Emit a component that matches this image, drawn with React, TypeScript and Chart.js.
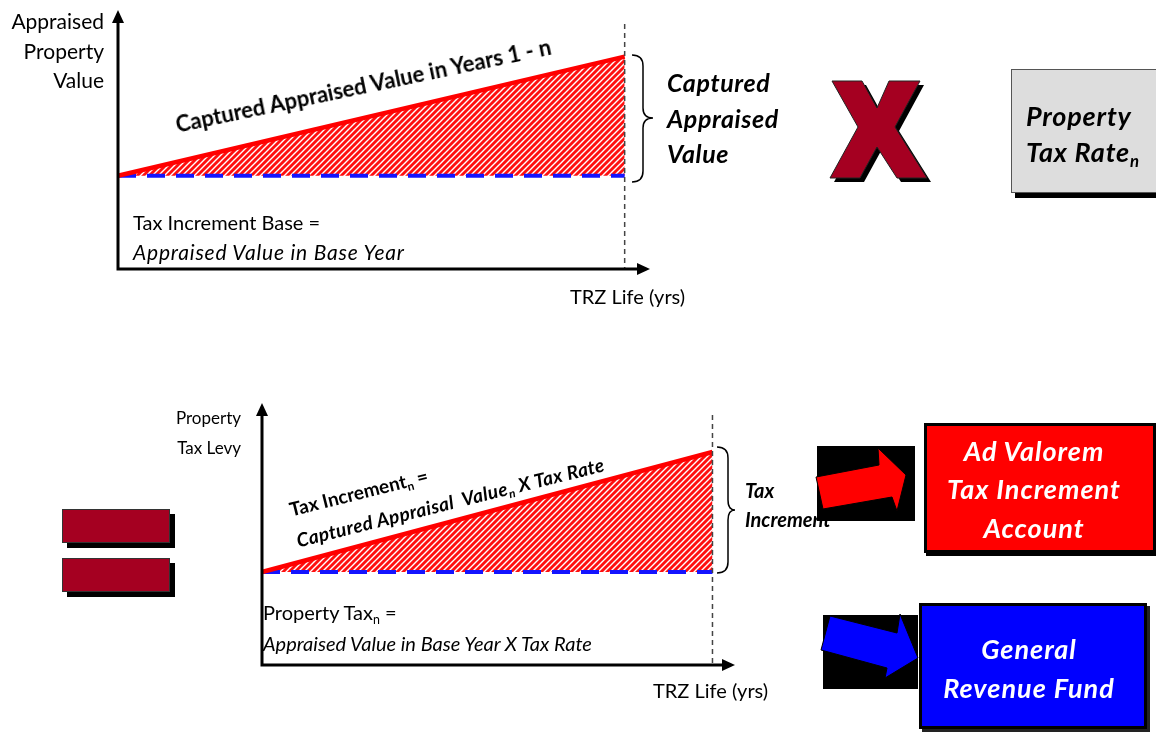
import React, { useEffect, useRef } from "react";
import { Chart, registerables } from "chart.js";

Chart.register(...registerables);

// ---------- data ----------
const topYears = [0, 20];
const topCapturedValue = [36, 82];
const topBaseValue = [36, 36];
const topXMax = 21;
const topYMax = 100;

const bottomYears = [0, 20];
const bottomTaxIncrement = [35.5, 81.3];
const bottomBaseTax = [35.5, 35.5];
const bottomXMax = 21;
const bottomYMax = 100;

const W = 1156;
const H = 734;
const FONT = 'Lato, "Open Sans", "DejaVu Sans", sans-serif';

function makeHatch(): CanvasPattern | string {
  const c = document.createElement("canvas");
  const s = 6;
  c.width = s;
  c.height = s;
  const g = c.getContext("2d");
  if (!g) return "rgba(255,0,0,0.7)";
  g.fillStyle = "#FF0F0F";
  g.fillRect(0, 0, s, s);
  g.strokeStyle = "#FFFFFF";
  g.lineWidth = 1.4;
  g.beginPath();
  g.moveTo(-1, s + 1);
  g.lineTo(s + 1, -1);
  g.moveTo(-1, 1);
  g.lineTo(1, -1);
  g.moveTo(s - 1, s + 1);
  g.lineTo(s + 1, s - 1);
  g.stroke();
  const p = g.createPattern(c, "repeat");
  return p || "rgba(255,0,0,0.7)";
}

const diagramAxes = {
  id: "diagramAxes",
  afterDraw(chart: any, _args: any, opts: any) {
    const { ctx, chartArea } = chart;
    const { left, right, top, bottom } = chartArea;
    const xs = chart.scales.x;
    ctx.save();
    const ex = xs.getPixelForValue(opts.endYear);
    ctx.strokeStyle = "#444";
    ctx.lineWidth = 1.5;
    ctx.setLineDash([5, 4]);
    ctx.beginPath();
    ctx.moveTo(ex, top + opts.dashTop);
    ctx.lineTo(ex, bottom);
    ctx.stroke();
    ctx.setLineDash([]);
    ctx.strokeStyle = "#000";
    ctx.fillStyle = "#000";
    ctx.lineWidth = 3;
    ctx.beginPath();
    ctx.moveTo(left, bottom + 1.5);
    ctx.lineTo(left, top + 8);
    ctx.moveTo(left - 1.5, bottom);
    ctx.lineTo(right - 8, bottom);
    ctx.stroke();
    ctx.beginPath();
    ctx.moveTo(left, top);
    ctx.lineTo(left - 6, top + 13);
    ctx.lineTo(left + 6, top + 13);
    ctx.closePath();
    ctx.fill();
    ctx.beginPath();
    ctx.moveTo(right, bottom);
    ctx.lineTo(right - 13, bottom - 6);
    ctx.lineTo(right - 13, bottom + 6);
    ctx.closePath();
    ctx.fill();
    ctx.restore();
  },
};

type ChartSpec = {
  years: number[];
  upper: number[];
  base: number[];
  xMax: number;
  yMax: number;
  endYear: number;
  dashTop: number;
  padding: { left: number; right: number; top: number; bottom: number };
};

function DiagramChart(props: ChartSpec & { left: number; top: number; width: number; height: number }) {
  const ref = useRef<HTMLCanvasElement | null>(null);
  useEffect(() => {
    if (!ref.current) return;
    const hatch = makeHatch();
    const chart = new Chart(ref.current, {
      type: "line",
      data: {
        datasets: [
          {
            data: props.years.map((x, i) => ({ x, y: props.upper[i] })),
            borderColor: "#FF0000",
            borderWidth: 4.5,
            pointRadius: 0,
            fill: "+1",
            backgroundColor: hatch as any,
            tension: 0,
            clip: false as any,
            order: 0,
          },
          {
            data: props.years.map((x, i) => ({ x, y: props.base[i] })),
            borderColor: "#1414FF",
            borderWidth: 4,
            borderDash: [18, 11],
            pointRadius: 0,
            fill: false,
            tension: 0,
            clip: false as any,
            order: 1,
          },
        ],
      },
      options: {
        animation: false,
        responsive: false,
        maintainAspectRatio: false,
        events: [],
        layout: { padding: props.padding },
        scales: {
          x: { type: "linear", min: 0, max: props.xMax, display: false },
          y: { type: "linear", min: 0, max: props.yMax, display: false },
        },
        plugins: {
          legend: { display: false },
          tooltip: { enabled: false },
          filler: { drawTime: "beforeDatasetsDraw" },
          diagramAxes: { endYear: props.endYear, dashTop: props.dashTop },
        } as any,
      },
      plugins: [diagramAxes],
    });
    return () => chart.destroy();
  }, []);
  return (
    <canvas
      ref={ref}
      width={props.width}
      height={props.height}
      style={{ position: "absolute", left: props.left, top: props.top, width: props.width, height: props.height }}
    />
  );
}

type TP = {
  x: number;
  y: number;
  size: number;
  bold?: boolean;
  italic?: boolean;
  color?: string;
  align?: "left" | "right" | "center";
  ls?: number;
  children: React.ReactNode;
};

function Txt({ x, y, size, bold, italic, color = "#000", align = "left", ls = 0, children }: TP) {
  const style: any = {
    position: "absolute",
    top: y,
    fontSize: size,
    fontWeight: bold ? 700 : 400,
    fontStyle: italic ? "italic" : "normal",
    color,
    lineHeight: 1,
    whiteSpace: "nowrap",
    fontFamily: FONT,
    letterSpacing: ls,
  };
  if (align === "left") {
    style.left = x;
    style.transform = "translateY(-50%)";
  } else if (align === "right") {
    style.right = W - x;
    style.transform = "translateY(-50%)";
  } else {
    style.left = x;
    style.transform = "translate(-50%,-50%)";
  }
  return <div style={style}>{children}</div>;
}

function RotTxt({ x, y, size, angle, bold, italic, ls = 0, children }: { x: number; y: number; size: number; angle: number; bold?: boolean; italic?: boolean; ls?: number; children: React.ReactNode }) {
  return (
    <div
      style={{
        position: "absolute",
        left: x,
        top: y,
        fontSize: size,
        fontWeight: bold ? 700 : 400,
        fontStyle: italic ? "italic" : "normal",
        lineHeight: 1.2,
        whiteSpace: "nowrap",
        fontFamily: FONT,
        letterSpacing: ls,
        transformOrigin: "0 50%",
        transform: `translateY(-50%) rotate(${-angle}deg)`,
      }}
    >
      {children}
    </div>
  );
}

const Sub = ({ children }: { children: React.ReactNode }) => (
  <span style={{ fontSize: "0.62em", verticalAlign: "-0.3em", lineHeight: 0 }}>{children}</span>
);

export default function App() {
  return (
    <div style={{ position: "absolute", left: 0, top: 0, width: W, height: H, background: "#fff", overflow: "hidden", fontFamily: FONT }}>
      {/* ---------- top chart ---------- */}
      <DiagramChart
        left={100}
        top={0}
        width={570}
        height={290}
        years={topYears}
        upper={topCapturedValue}
        base={topBaseValue}
        xMax={topXMax}
        yMax={topYMax}
        endYear={20}
        dashTop={14}
        padding={{ left: 18, right: 20, top: 10, bottom: 21 }}
      />
      <Txt x={104} y={20} size={21} align="right">Appraised</Txt>
      <Txt x={104} y={50} size={21} align="right">Property</Txt>
      <Txt x={104} y={79} size={21} align="right">Value</Txt>
      <RotTxt x={176} y={125} size={22} angle={11.8} bold>
        Captured Appraised Value in Years 1 - n
      </RotTxt>
      <Txt x={133} y={222} size={20}>Tax Increment Base =</Txt>
      <Txt x={133} y={251} size={21} italic ls={0.8}>Appraised Value in Base Year</Txt>
      <Txt x={570} y={296} size={20}>TRZ Life (yrs)</Txt>

      <svg width={W} height={H} style={{ position: "absolute", left: 0, top: 0, pointerEvents: "none" }}>
        <path d="M632,55 Q643,55 643,66 L643,108 Q643,118 653,118 Q643,118 643,128 L643,171 Q643,182 632,182" fill="none" stroke="#000" strokeWidth={1.5} />
        <path d="M717,447 Q728,447 728,458 L728,500 Q728,510 735,510 Q728,510 728,520 L728,562 Q728,573 717,573" fill="none" stroke="#000" strokeWidth={1.5} />
        <g transform="translate(4,4)">
          <polygon points="832,81 862,81 877,108 889,81 920,81 895,127 927,178 897,178 877,147 860,178 830,178 858,127" fill="#000" />
        </g>
        <polygon points="832,81 862,81 877,108 889,81 920,81 895,127 927,178 897,178 877,147 860,178 830,178 858,127" fill="#A50021" stroke="#222" strokeWidth={1} />
        <rect x={817} y={446} width={98} height={75} fill="#000" />
        <polygon points="816,477 879,465 878,448 906,475 897,511 892,497 823,509" fill="#FF0000" stroke="#000" strokeWidth={1} />
        <rect x={823} y={615} width={95} height={74} fill="#000" />
        <polygon points="830,616 897,633 900,614 918,658 885,678 887,668 821,650" fill="#0000FF" stroke="#000" strokeWidth={1} />
      </svg>

      <Txt x={667} y={82} size={25} bold italic ls={0.6}>Captured</Txt>
      <Txt x={667} y={118} size={25} bold italic ls={0.6}>Appraised</Txt>
      <Txt x={667} y={153} size={25} bold italic ls={0.6}>Value</Txt>

      <div style={{ position: "absolute", left: 1011, top: 69, width: 160, height: 122, background: "#DDDDDD", border: "1px solid #555", boxShadow: "4px 5px 0 #000" }} />
      <Txt x={1026} y={115} size={27} bold italic ls={0.8}>Property</Txt>
      <Txt x={1026} y={151} size={27} bold italic ls={0.8}>Tax Rate<Sub>n</Sub></Txt>

      <div style={{ position: "absolute", left: 62, top: 509, width: 106, height: 32, background: "#A50021", border: "1px solid #333", boxShadow: "5px 5px 0 #000" }} />
      <div style={{ position: "absolute", left: 62, top: 558, width: 106, height: 32, background: "#A50021", border: "1px solid #333", boxShadow: "5px 5px 0 #000" }} />

      {/* ---------- bottom chart ---------- */}
      <DiagramChart
        left={240}
        top={390}
        width={520}
        height={295}
        years={bottomYears}
        upper={bottomTaxIncrement}
        base={bottomBaseTax}
        xMax={bottomXMax}
        yMax={bottomYMax}
        endYear={20}
        dashTop={12}
        padding={{ left: 22, right: 25, top: 13, bottom: 20 }}
      />
      <Txt x={241} y={417} size={17} align="right">Property</Txt>
      <Txt x={241} y={447} size={17} align="right">Tax Levy</Txt>
      <RotTxt x={290} y={510} size={19} angle={14} bold>
        Tax Increment<Sub>n</Sub> =
      </RotTxt>
      <RotTxt x={297} y={541} size={19} angle={14} bold italic ls={0.4}>
        Captured Appraisal&nbsp; Value<Sub>n</Sub> X Tax Rate
      </RotTxt>
      <Txt x={263} y={612} size={20}>Property Tax<Sub>n</Sub> =</Txt>
      <Txt x={263} y={643} size={20} italic>Appraised Value in Base Year X Tax Rate</Txt>
      <Txt x={653} y={690} size={20}>TRZ Life (yrs)</Txt>
      <Txt x={745} y={490} size={20} bold italic>Tax</Txt>
      <Txt x={745} y={519} size={20} bold italic>Increment</Txt>

      <div style={{ position: "absolute", left: 924, top: 423, width: 226, height: 124, background: "#FF0000", border: "3px solid #000", boxShadow: "2px 3px 0 #000" }} />
      <Txt x={1034} y={450} size={27} bold italic ls={1} color="#fff" align="center">Ad Valorem</Txt>
      <Txt x={1034} y={488} size={27} bold italic ls={1} color="#fff" align="center">Tax Increment</Txt>
      <Txt x={1034} y={527} size={27} bold italic ls={1} color="#fff" align="center">Account</Txt>

      <div style={{ position: "absolute", left: 919, top: 603, width: 222, height: 120, background: "#0000FF", border: "3px solid #000", boxShadow: "3px 3px 0 #222" }} />
      <Txt x={1029} y={648} size={27} bold italic ls={1} color="#fff" align="center">General</Txt>
      <Txt x={1029} y={687} size={27} bold italic ls={1} color="#fff" align="center">Revenue Fund</Txt>
    </div>
  );
}
